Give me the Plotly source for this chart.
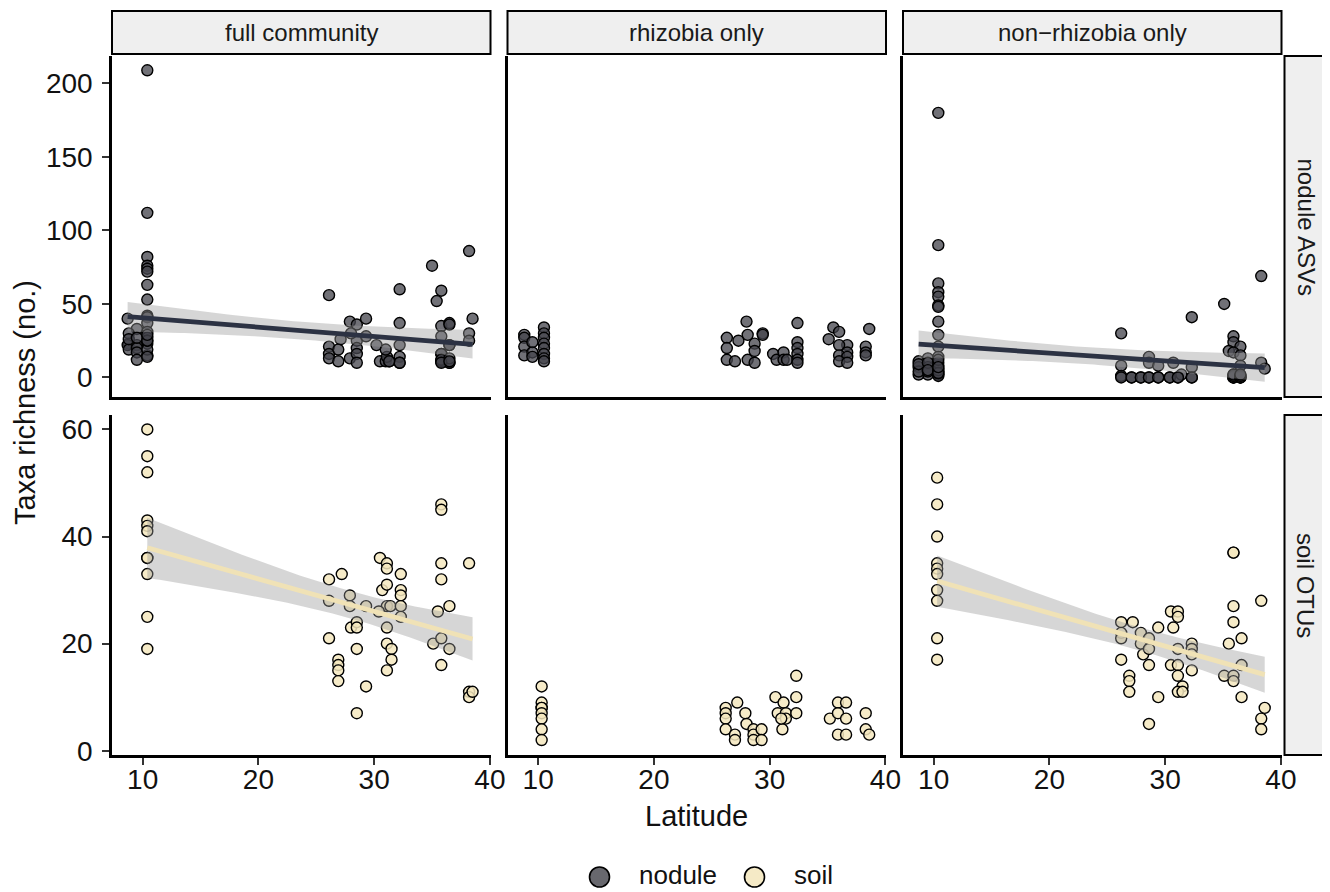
import numpy as np
import plotly.graph_objects as go

# The page is drawn with an 8px body margin; lay out in page pixels and convert.
OFF = 8
W, H = 1322, 884

# ---------------- data ----------------
col_labels = ["full community", "rhizobia only", "non\u2212rhizobia only"]
row_labels = ["nodule ASVs", "soil OTUs"]
legend_labels = ["nodule", "soil"]
x_ticks = [10, 20, 30, 40]
y_ticks_nodule = [0, 50, 100, 150, 200]
y_ticks_soil = [0, 20, 40, 60]

# nodule ASVs - full community
nod_full_lat = [10.4, 10.4, 8.7, 10.4, 10.4, 10.4, 10.4, 10.4, 10.4, 10.4, 10.4, 10.4, 10.4, 10.4, 10.4,
                10.4, 9.5, 8.8, 8.8, 8.7, 8.8, 9.5, 9.5, 9.5, 9.5, 10.4, 10.4, 10.4,
                8.8, 9.5, 10.4, 10.4,
                26.1, 26.1, 26.1, 26.1, 26.9, 26.9, 27.1, 27.9, 27.9, 28.5, 28.5, 28.5, 28.5, 28.5,
                28.0, 29.3, 29.3, 30.2, 30.5, 31.0, 31.3, 31.1, 31.0, 32.2, 32.2, 32.2, 32.2, 32.2,
                35.0, 35.4, 35.8, 35.8, 35.8, 35.8, 35.8, 36.5, 36.5, 36.5, 36.5, 38.2, 38.5, 38.2, 38.2,
                35.8, 35.8, 36.5, 36.5, 32.2, 31.3,
                35.8, 36.5, 35.8, 36.5]
nod_full_rich = [209, 112, 40, 82, 76, 74, 72, 63, 53, 42, 41, 37, 31, 27, 23,
                 15, 33, 30, 23, 22, 19, 22, 20, 17, 12, 19, 14, 25,
                 26, 27, 25, 29,
                 56, 21, 16, 13, 19, 11, 26, 38, 13, 36, 25, 20, 16, 10,
                 30, 40, 28, 22, 11, 11, 11, 14, 19, 60, 37, 22, 14, 10,
                 76, 52, 59, 35, 28, 16, 11, 37, 36, 22, 10, 86, 40, 30, 25,
                 11, 16, 10, 22, 10, 11,
                 12, 13, 10, 11]

# nodule ASVs - rhizobia only
nod_rhiz_lat = [8.8, 8.8, 8.8, 8.8, 9.5, 9.5, 9.5, 10.5, 10.5, 10.5, 10.5, 10.5, 10.5, 10.5, 10.5,
                26.3, 26.3, 26.3, 27.0, 27.3, 28.0, 28.1, 28.1, 28.7, 28.7, 28.7, 29.4, 29.4,
                30.3, 30.6, 31.2, 31.2, 31.5, 32.4, 32.4, 32.4, 32.4, 32.4, 32.4,
                35.5, 36.0, 35.1, 36.7, 36.0, 36.7, 36.0, 36.7, 36.0, 36.7, 38.6, 38.3, 38.3, 38.3]
nod_rhiz_rich = [29, 27, 21, 15, 24, 17, 14, 34, 30, 27, 23, 20, 16, 13, 11,
                 27, 20, 12, 11, 25, 38, 29, 12, 23, 18, 10, 30, 29,
                 16, 12, 17, 12, 12, 37, 24, 20, 16, 12, 10,
                 34, 31, 26, 22, 22, 17, 15, 14, 11, 10, 33, 21, 17, 15]

# nodule ASVs - non-rhizobia only
nod_nonr_lat = [10.4, 10.4, 10.4, 10.4, 10.4, 10.4, 10.4, 10.4, 10.4, 10.4, 10.4, 10.4, 10.4, 10.4, 10.4,
                9.5, 9.5, 9.5, 8.7, 8.7, 8.7,
                8.7, 8.7, 9.5, 9.5, 9.5,
                10.4, 10.4, 10.4, 10.4, 10.4, 10.4, 10.4,
                26.2, 26.2, 26.2, 27.1, 27.9, 28.6, 28.6, 28.6, 29.4, 29.4, 30.7, 30.4, 31.1, 31.4,
                32.3, 32.3, 32.3, 35.1, 35.9, 35.9, 36.5, 35.5, 35.9, 36.5, 36.5, 35.9, 36.5, 35.9,
                38.3, 38.3, 38.6,
                26.2, 27.1, 27.9, 28.6, 29.4, 30.4, 31.1, 32.3, 35.9, 35.9, 35.9, 35.9, 36.5, 36.5, 36.5, 36.5]
nod_nonr_rich = [180, 90, 64, 58, 55, 49, 48, 38, 29, 21, 14, 8, 6, 4, 2,
                 13, 7, 2, 11, 7, 2,
                 4, 9, 4, 10, 5,
                 1, 3, 5, 10, 12, 3, 7,
                 30, 8, 1, 0, 0, 0, 14, 10, 8, 0, 10, 0, 0, 2,
                 0, 7, 41, 50, 28, 24, 21, 18, 17, 15, 8, 2, 0, 0,
                 69, 10, 6,
                 0, 0, 0, 0, 0, 0, 0, 0, 0, 0, 1, 2, 0, 0, 1, 2]

# soil OTUs - full community
soil_full_lat = [10.4, 10.4, 10.4, 10.4, 10.4, 10.4, 10.4, 10.4, 10.4, 10.4, 10.4,
                 26.1, 26.1, 26.1, 27.2, 26.9, 26.9, 26.9, 26.9, 27.9, 27.9, 28.0, 28.5, 28.5, 28.5, 28.5,
                 29.3, 29.3, 30.5, 30.7, 31.1, 31.1, 31.1, 31.1, 31.4, 31.1, 31.1, 31.1, 31.5, 31.5, 30.4,
                 32.3, 32.3, 32.3, 32.3, 32.3, 35.1, 35.5, 35.8, 35.8, 35.8, 35.8, 35.8, 35.8,
                 36.5, 36.5, 38.2, 38.2, 38.2, 38.5]
soil_full_rich = [60, 55, 52, 43, 42, 41, 36, 36, 33, 25, 19,
                  32, 28, 21, 33, 17, 16, 15, 13, 29, 27, 23, 24, 23, 19, 7,
                  27, 12, 36, 30, 35, 34, 31, 27, 27, 23, 20, 15, 19, 17, 26,
                  33, 30, 29, 27, 25, 20, 26, 46, 45, 35, 32, 21, 16,
                  27, 19, 35, 11, 10, 11]

# soil OTUs - rhizobia only
soil_rhiz_lat = [10.3, 10.3, 10.3, 10.3, 10.3, 10.3, 10.3, 10.3,
                 26.2, 26.2, 26.2, 26.2, 27.0, 27.0, 27.2, 27.9, 28.0, 28.6, 28.6, 28.6, 29.3, 29.3,
                 30.5, 30.7, 31.1, 31.2, 31.4, 31.4, 31.0, 32.3, 32.3, 32.3,
                 35.2, 35.9, 35.9, 36.6, 36.6, 35.9, 36.6, 38.3, 38.3, 38.6]
soil_rhiz_rich = [12, 9, 8, 8, 7, 6, 4, 2,
                  8, 7, 6, 4, 3, 2, 9, 7, 5, 4, 3, 2, 4, 2,
                  10, 7, 4, 9, 7, 6, 6, 14, 10, 7,
                  6, 9, 7, 9, 6, 3, 3, 7, 4, 3]

# soil OTUs - non-rhizobia only
soil_nonr_lat = [10.3, 10.3, 10.3, 10.3, 10.3, 10.3, 10.3, 10.3, 10.3, 10.3,
                 26.2, 26.2, 26.2, 26.2, 27.2, 26.9, 26.9, 26.9, 27.9, 27.9, 28.1, 28.6, 28.6, 28.6, 28.6,
                 29.4, 29.4, 30.5, 31.1, 31.1, 30.7, 31.1, 30.5, 31.1, 31.1, 31.5, 31.1, 31.5,
                 32.3, 32.3, 32.3, 32.3, 35.1, 35.5, 35.9, 35.9, 35.9, 35.9, 35.9, 35.9,
                 36.6, 36.6, 36.6, 38.3, 38.3, 38.3, 38.6]
soil_nonr_rich = [51, 46, 40, 35, 34, 33, 30, 28, 21, 17,
                  24, 22, 21, 17, 24, 14, 13, 11, 22, 20, 18, 21, 19, 16, 5,
                  23, 10, 26, 26, 25, 23, 19, 16, 16, 14, 12, 11, 11,
                  20, 19, 18, 15, 14, 20, 37, 37, 27, 24, 14, 13,
                  21, 16, 10, 28, 6, 4, 8]

# ---------------- styling ----------------
FONT = "Liberation Sans, Arial, Helvetica, sans-serif"
NOD_FILL = "rgba(68,68,76,0.76)"
SOIL_FILL = "rgba(245,232,190,0.85)"
NOD_LINE = "#2c3243"
SOIL_LINE = "#f0e2b6"
BAND = "rgba(153,153,153,0.4)"
STRIP_FILL = "#efefef"

# page-pixel layout
col_px = [(112, 490.5), (507.5, 886), (903, 1281.5)]
row_px = [(56, 397), (415, 755)]
x_range = [7.35, 40.05]
y_ranges = [[-13.3, 218.7], [-0.8, 62.7]]


def px_x(v):
    return (v - OFF) / W


def px_y(v):
    return 1 - (v - OFF) / H


def t975(df):
    z = 1.959964
    return z + (z ** 3 + z) / (4 * df) + (5 * z ** 5 + 16 * z ** 3 + 3 * z) / (96 * df ** 2)


def lm_band(x, y, n=80):
    x = np.asarray(x, float)
    y = np.asarray(y, float)
    b1, b0 = np.polyfit(x, y, 1)
    xs = np.linspace(x.min(), x.max(), n)
    yh = b0 + b1 * xs
    res = y - (b0 + b1 * x)
    dof = len(x) - 2
    s = np.sqrt((res ** 2).sum() / dof)
    se = s * np.sqrt(1 / len(x) + (xs - x.mean()) ** 2 / ((x - x.mean()) ** 2).sum())
    t = t975(dof)
    return xs, yh, yh - t * se, yh + t * se


panels = [
    (0, 0, nod_full_lat, nod_full_rich, "nodule", True),
    (0, 1, nod_rhiz_lat, nod_rhiz_rich, "nodule", False),
    (0, 2, nod_nonr_lat, nod_nonr_rich, "nodule", True),
    (1, 0, soil_full_lat, soil_full_rich, "soil", True),
    (1, 1, soil_rhiz_lat, soil_rhiz_rich, "soil", False),
    (1, 2, soil_nonr_lat, soil_nonr_rich, "soil", True),
]

fig = go.Figure()
layout = {}
shapes = []
annotations = []

for r, c, lat, rich, kind, has_fit in panels:
    idx = r * 3 + c + 1
    sx = "" if idx == 1 else str(idx)
    xa, ya = "x" + sx, "y" + sx
    fill = NOD_FILL if kind == "nodule" else SOIL_FILL
    lcol = NOD_LINE if kind == "nodule" else SOIL_LINE

    fig.add_trace(go.Scatter(
        x=lat, y=rich, mode="markers", xaxis=xa, yaxis=ya, showlegend=False,
        name=kind, hoverinfo="x+y",
        marker=dict(size=11, color=fill, line=dict(color="black", width=1.4)),
    ))
    if has_fit:
        xs, yh, lo, hi = lm_band(lat, rich)
        fig.add_trace(go.Scatter(
            x=np.concatenate([xs, xs[::-1]]), y=np.concatenate([hi, lo[::-1]]),
            mode="lines", fill="toself", fillcolor=BAND, line=dict(width=0),
            xaxis=xa, yaxis=ya, showlegend=False, hoverinfo="skip",
        ))
        fig.add_trace(go.Scatter(
            x=xs, y=yh, mode="lines", line=dict(color=lcol, width=4.8),
            xaxis=xa, yaxis=ya, showlegend=False, hoverinfo="skip",
        ))

    x0, x1 = col_px[c]
    y0, y1 = row_px[r]
    bottom = r == 1
    left = c == 0
    layout["xaxis" + sx] = dict(
        domain=[px_x(x0), px_x(x1)], anchor=ya, range=x_range,
        showgrid=False, zeroline=False, showline=True, linecolor="black", linewidth=2.6,
        ticks="outside" if bottom else "", ticklen=7, tickwidth=2.4, tickcolor="#333333",
        tickvals=x_ticks, showticklabels=bottom, ticklabelstandoff=-9,
        tickfont=dict(family=FONT, size=28, color="#111111"),
        automargin=False, fixedrange=True,
    )
    yt = y_ticks_nodule if r == 0 else y_ticks_soil
    layout["yaxis" + sx] = dict(
        domain=[px_y(y1), px_y(y0)], anchor=xa, range=y_ranges[r],
        showgrid=False, zeroline=False, showline=True, linecolor="black", linewidth=2.6,
        ticks="outside" if left else "", ticklen=7, tickwidth=2.4, tickcolor="#333333",
        tickvals=yt, showticklabels=left, ticklabelstandoff=4,
        tickfont=dict(family=FONT, size=28, color="#111111"),
        automargin=False, fixedrange=True,
    )

# top strips
for c, lab in enumerate(col_labels):
    x0, x1 = col_px[c]
    shapes.append(dict(type="rect", xref="paper", yref="paper",
                       x0=px_x(x0), x1=px_x(x1), y0=px_y(54), y1=px_y(11),
                       fillcolor=STRIP_FILL, line=dict(color="black", width=2), layer="below"))
    annotations.append(dict(text=lab, xref="paper", yref="paper",
                            x=px_x((x0 + x1) / 2), y=px_y(32.5), showarrow=False,
                            xanchor="center", yanchor="middle",
                            font=dict(family=FONT, size=24, color="#1a1a1a")))
# right strips
for r, lab in enumerate(row_labels):
    y0, y1 = row_px[r]
    shapes.append(dict(type="rect", xref="paper", yref="paper",
                       x0=px_x(1284.5), x1=px_x(1327.5), y0=px_y(y1), y1=px_y(y0),
                       fillcolor=STRIP_FILL, line=dict(color="black", width=2), layer="below"))
    annotations.append(dict(text=lab, xref="paper", yref="paper",
                            x=px_x(1306), y=px_y((y0 + y1) / 2), showarrow=False,
                            textangle=90, xanchor="center", yanchor="middle",
                            font=dict(family=FONT, size=24, color="#1a1a1a")))

# axis titles
annotations.append(dict(text="Latitude", xref="paper", yref="paper",
                        x=px_x((col_px[1][0] + col_px[1][1]) / 2), y=px_y(816),
                        showarrow=False, xanchor="center", yanchor="middle",
                        font=dict(family=FONT, size=29, color="#111111")))
annotations.append(dict(text="Taxa richness (no.)", xref="paper", yref="paper",
                        x=px_x(25), y=px_y(403), showarrow=False, textangle=-90,
                        xanchor="center", yanchor="middle",
                        font=dict(family=FONT, size=29, color="#111111")))

# legend (drawn as shapes + text)
leg_items = [(legend_labels[0], 599.5, "rgba(104,104,110,1)"), (legend_labels[1], 754.5, "rgba(245,234,198,1)")]
for lab, cx, col in leg_items:
    rr = 10
    shapes.append(dict(type="circle", xref="paper", yref="paper",
                       x0=px_x(cx - rr), x1=px_x(cx + rr), y0=px_y(877 + rr), y1=px_y(877 - rr),
                       fillcolor=col, line=dict(color="black", width=1.6)))
    annotations.append(dict(text=lab, xref="paper", yref="paper",
                            x=px_x(cx + 37.5), y=px_y(875), showarrow=False,
                            xanchor="left", yanchor="middle",
                            font=dict(family=FONT, size=26, color="#111111")))

fig.update_layout(
    width=W, height=H,
    margin=dict(l=0, r=0, t=0, b=0),
    paper_bgcolor="white", plot_bgcolor="white",
    showlegend=False,
    shapes=shapes, annotations=annotations,
    font=dict(family=FONT),
    **layout,
)

fig.write_html("out.html")
